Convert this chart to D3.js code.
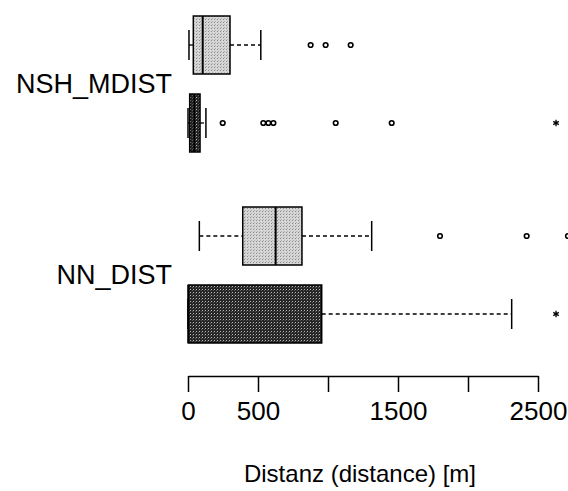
<!DOCTYPE html>
<html>
<head>
<meta charset="utf-8">
<script src="https://cdn.jsdelivr.net/npm/d3@7"></script>
<style>
  body { margin: 0; background: #fff; }
  svg { display: block; font-family: Arial, "Liberation Sans", sans-serif; }
</style>
</head>
<body>
<svg id="chart" width="568" height="491"></svg>
<script>
// variables (groups on the y axis) and the two series inside each group
const variables = ["NSH_MDIST", "NN_DIST"];
const series = ["hell", "dunkel"];

// box statistics, one row per variable, one entry per series [hell, dunkel]
const lowWhisker = [[7, 0], [81, 0]];
const q1 = [[38, 12], [391, 2]];
const median = [[105, 45], [626, 3]];
const q3 = [[300, 86], [814, 955]];
const highWhisker = [[520, 128], [1312, 2312]];
const outliers = [[[876, 983, 1162], [248, 538, 574, 610, 1055, 1455]], [[1800, 2419, 2714], []]];
const extremes = [[[], [2629]], [[], [2629]]];

const tickValues = [0, 500, 1000, 1500, 2000, 2500];
const tickLabels = ["0", "500", "", "1500", "", "2500"];

const svg = d3.select("#chart");

// patterns for the stippled fills
const defs = svg.append("defs");
const light = defs.append("pattern").attr("id", "pat-hell")
    .attr("width", 3).attr("height", 3).attr("patternUnits", "userSpaceOnUse");
light.append("rect").attr("width", 3).attr("height", 3).attr("fill", "#d6d6d6");
light.append("rect").attr("x", 1).attr("y", 1).attr("width", 1).attr("height", 1).attr("fill", "#8a8a8a");
light.append("rect").attr("x", 2).attr("y", 0).attr("width", 1).attr("height", 1).attr("fill", "#b0b0b0");

const dark = defs.append("pattern").attr("id", "pat-dunkel")
    .attr("width", 3).attr("height", 3).attr("patternUnits", "userSpaceOnUse");
dark.append("rect").attr("width", 3).attr("height", 3).attr("fill", "#262626");
dark.append("rect").attr("x", 1).attr("y", 1).attr("width", 1).attr("height", 1).attr("fill", "#b8b8b8");
dark.append("rect").attr("x", 0).attr("y", 2).attr("width", 1).attr("height", 1).attr("fill", "#5a5a5a");

const x = d3.scaleLinear().domain([0, 2500]).range([188, 538]);
const yOuter = d3.scalePoint().domain(variables).range([84, 275]);
const yInner = d3.scalePoint().domain(series).range([-39, 39]);
const halfBox = 29;
const halfCap = 15;

// flatten into boxes
const boxes = [];
variables.forEach((v, i) => {
    series.forEach((s, j) => {
        boxes.push({
            v, s,
            lo: lowWhisker[i][j], q1: q1[i][j], med: median[i][j], q3: q3[i][j], hi: highWhisker[i][j],
            out: outliers[i][j], ext: extremes[i][j],
            cy: yOuter(v) + yInner(s)
        });
    });
});

const g = svg.append("g");
const box = g.selectAll("g.box").data(boxes).enter().append("g").attr("class", "box");

// whiskers (dashed)
box.append("line")
    .attr("x1", d => x(d.lo)).attr("x2", d => x(d.q1))
    .attr("y1", d => d.cy).attr("y2", d => d.cy)
    .attr("stroke", "#000").attr("stroke-width", 1.3).attr("stroke-dasharray", "4,3");
box.append("line")
    .attr("x1", d => x(d.q3)).attr("x2", d => x(d.hi))
    .attr("y1", d => d.cy).attr("y2", d => d.cy)
    .attr("stroke", "#000").attr("stroke-width", 1.3).attr("stroke-dasharray", "4,3");

// whisker caps
box.append("line")
    .attr("x1", d => x(d.lo)).attr("x2", d => x(d.lo))
    .attr("y1", d => d.cy - halfCap).attr("y2", d => d.cy + halfCap)
    .attr("stroke", "#000").attr("stroke-width", 1.5);
box.append("line")
    .attr("x1", d => x(d.hi)).attr("x2", d => x(d.hi))
    .attr("y1", d => d.cy - halfCap).attr("y2", d => d.cy + halfCap)
    .attr("stroke", "#000").attr("stroke-width", 1.5);

// box
box.append("rect")
    .attr("x", d => x(d.q1))
    .attr("y", d => d.cy - halfBox)
    .attr("width", d => x(d.q3) - x(d.q1))
    .attr("height", halfBox * 2)
    .attr("fill", d => `url(#pat-${d.s})`)
    .attr("stroke", "#000").attr("stroke-width", 1.5);

// median
box.append("line")
    .attr("x1", d => x(d.med)).attr("x2", d => x(d.med))
    .attr("y1", d => d.cy - halfBox).attr("y2", d => d.cy + halfBox)
    .attr("stroke", "#000").attr("stroke-width", 2);

// outliers
box.selectAll("circle").data(d => d.out.map(o => ({ o, cy: d.cy }))).enter()
    .append("circle")
    .attr("cx", d => x(d.o)).attr("cy", d => d.cy).attr("r", 2.3)
    .attr("fill", "#fff").attr("stroke", "#000").attr("stroke-width", 1.6);

// extremes
const star = d3.symbol().type(d3.symbolAsterisk).size(28);
box.selectAll("path.ext").data(d => d.ext.map(o => ({ o, cy: d.cy }))).enter()
    .append("path").attr("class", "ext")
    .attr("transform", d => `translate(${x(d.o)},${d.cy})`)
    .attr("d", star)
    .attr("fill", "none").attr("stroke", "#000").attr("stroke-width", 1.3);

// group labels
g.selectAll("text.var").data(variables).enter().append("text")
    .attr("class", "var")
    .attr("x", 172)
    .attr("y", d => yOuter(d) + 9)
    .attr("text-anchor", "end")
    .attr("font-size", 27)
    .attr("fill", "#000")
    .text(d => d);

// x axis
const axis = d3.axisBottom(x)
    .tickValues(tickValues)
    .tickFormat((d, i) => tickLabels[i])
    .tickSize(16)
    .tickSizeOuter(0)
    .tickPadding(10);

const ax = svg.append("g").attr("transform", "translate(0,376)").call(axis);
ax.select(".domain").attr("stroke", "#000").attr("stroke-width", 1.5);
ax.selectAll(".tick line").attr("stroke", "#000").attr("stroke-width", 1.5);
ax.selectAll(".tick text")
    .attr("font-size", 26)
    .attr("font-family", "Arial, 'Liberation Sans', sans-serif")
    .attr("fill", "#000");

svg.append("text")
    .attr("x", 360)
    .attr("y", 482)
    .attr("text-anchor", "middle")
    .attr("font-size", 24)
    .attr("fill", "#000")
    .text("Distanz (distance) [m]");
</script>
</body>
</html>
